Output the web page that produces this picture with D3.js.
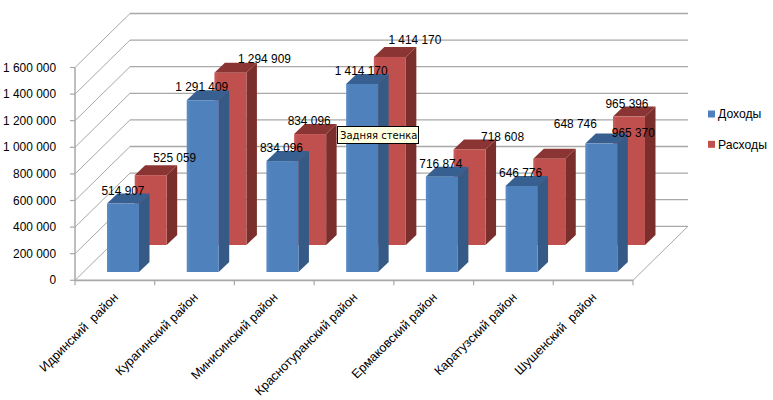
<!DOCTYPE html>
<html><head><meta charset="utf-8">
<script src="https://cdn.jsdelivr.net/npm/d3@7/dist/d3.min.js"></script>
<style>html,body{margin:0;padding:0;background:#fff}svg{display:block}text{font-family:"Liberation Sans",Arial,sans-serif;fill:#000}</style>
</head><body><svg id="c" width="773" height="400"></svg>
<script>
const categories=["Идринский  район","Курагинский район","Минисинский район","Краснотуранский район","Ермаковский район","Каратузский район","Шушенский  район"];
const seriesNames=["Доходы","Расходы"];
const income=[514907,1291409,834096,1414170,716874,646776,965370];
const expense=[525059,1294909,834096,1414170,718608,648746,965396];
const yTicks=[0,200000,400000,600000,800000,1000000,1200000,1400000,1600000];
const tooltipText="Задняя стенка";
// label nudges (layout only), relative to each bar's top centre
const nudgeIncome=[[0,-13],[-1,-13],[-1,-13],[-1,-13],[-1,-13],[-1,-13],[32,-11]];
const nudgeExpense=[[24,-17],[34,-14],[-1,-13],[25,-17],[33,-13],[26,-35],[-2,-13]];

const svg=d3.select("#c");
const fmt=v=>d3.format(",")(v).replace(/,/g,"\u00a0");
const x0=75,x1=633,yB=280.3,yT=67.5,wallDx=55,wallDy=54;
const x=d3.scaleBand().domain(categories).range([x0,x1]);
const y=d3.scaleLinear().domain([0,1600000]).range([yB,yT]);
const grid="#a8a8a8";
const g=svg.append("g");

yTicks.forEach(t=>{
  if(t>0) g.append("line").attr("x1",x0+wallDx).attr("x2",x1+wallDx).attr("y1",y(t)-wallDy).attr("y2",y(t)-wallDy).attr("stroke",grid).attr("stroke-width",1.3);
  g.append("line").attr("x1",x0).attr("y1",y(t)).attr("x2",x0+wallDx).attr("y2",y(t)-wallDy).attr("stroke",grid).attr("stroke-width",1);
  g.append("line").attr("x1",x0-5).attr("x2",x0).attr("y1",y(t)).attr("y2",y(t)).attr("stroke",grid).attr("stroke-width",1.2);
});
g.append("line").attr("x1",x0+wallDx).attr("x2",x1+wallDx).attr("y1",y(0)-wallDy).attr("y2",y(0)-wallDy).attr("stroke",grid).attr("stroke-width",1.3);
g.append("line").attr("x1",x1).attr("y1",y(0)).attr("x2",x1+wallDx).attr("y2",y(0)-wallDy).attr("stroke",grid).attr("stroke-width",1);
g.append("line").attr("x1",x0).attr("x2",x0).attr("y1",yT).attr("y2",yB).attr("stroke",grid).attr("stroke-width",1.5);
g.append("line").attr("x1",x0).attr("x2",x1).attr("y1",yB).attr("y2",yB).attr("stroke",grid).attr("stroke-width",1.8);
[...categories.map(c=>x(c)),x1].forEach(v=>g.append("line").attr("x1",v).attr("x2",v).attr("y1",yB).attr("y2",yB+5).attr("stroke",grid).attr("stroke-width",1.2));

yTicks.forEach(t=>g.append("text").attr("x",56).attr("y",y(t)).attr("text-anchor","end").attr("dy","0.35em").style("font-size","11.9px").text(fmt(t)));

const defs=svg.append("defs");
function grad(id,a,b){const l=defs.append("linearGradient").attr("id",id);
  l.append("stop").attr("offset","0").attr("stop-color",a);
  l.append("stop").attr("offset","0.12").attr("stop-color",b);
  l.append("stop").attr("offset","1").attr("stop-color",b);}
grad("gb","#5b8cc6","#4f81bd");grad("gr","#c95b58","#c0504d");

const barW=32,dDx=10.5,dDy=10;
const styles=[
 {fill:"url(#gb)",side:"#345a85",top:"#375f90",xo:32,lift:8.3,vals:income,nudge:nudgeIncome},
 {fill:"url(#gr)",side:"#7a2f2d",top:"#8a3533",xo:59.7,lift:35.3,vals:expense,nudge:nudgeExpense}];
function bar(layer,s,i){
  const L=x(categories[i])+s.xo,R=L+barW,B=y(0)-s.lift,T=y(s.vals[i])-s.lift;
  layer.append("path").attr("fill",s.side).attr("d",d3.line()([[R,B],[R,T],[R+dDx,T-dDy],[R+dDx,B-dDy]]));
  layer.append("path").attr("fill",s.top).attr("d",d3.line()([[L,T],[L+dDx,T-dDy],[R+dDx,T-dDy],[R,T]]));
  layer.append("rect").attr("x",L).attr("y",T).attr("width",barW).attr("height",B-T).attr("fill",s.fill);
}
const bars=svg.append("g");
styles.slice().reverse().forEach(s=>categories.forEach((c,i)=>bar(bars,s,i)));

const lab=svg.append("g");
styles.forEach(s=>categories.forEach((c,i)=>{
  const cx=x(c)+s.xo+barW/2, top=y(s.vals[i])-s.lift;
  lab.append("text").attr("x",cx+s.nudge[i][0]).attr("y",top+s.nudge[i][1]).attr("dy","0.35em").attr("text-anchor","middle").style("font-size","11.9px").text(fmt(s.vals[i]));
}));

categories.forEach(c=>{
  const cx=x(c)+x.bandwidth()/2+1;
  svg.append("text").attr("transform",`translate(${cx},295) rotate(-45)`).attr("text-anchor","end").attr("dy","0.35em").style("font-size","12.6px").style("white-space","pre").text(c);
});

const lc=["#4f81bd","#c0504d"];
seriesNames.forEach((n,i)=>{
  const ly=114+i*30.3;
  svg.append("rect").attr("x",708).attr("y",ly-3.5).attr("width",7).attr("height",7).attr("fill",lc[i]);
  svg.append("text").attr("x",718).attr("y",ly).attr("dy","0.35em").style("font-size","12.2px").text(n);
});

svg.append("rect").attr("x",337.5).attr("y",126.5).attr("width",81).attr("height",17).attr("fill","#ffffe1").attr("stroke","#000");
svg.append("text").attr("x",340).attr("y",135).attr("dy","0.35em").style("font-size","10px").style("font-family","'DejaVu Sans'").text(tooltipText);
</script></body></html>
